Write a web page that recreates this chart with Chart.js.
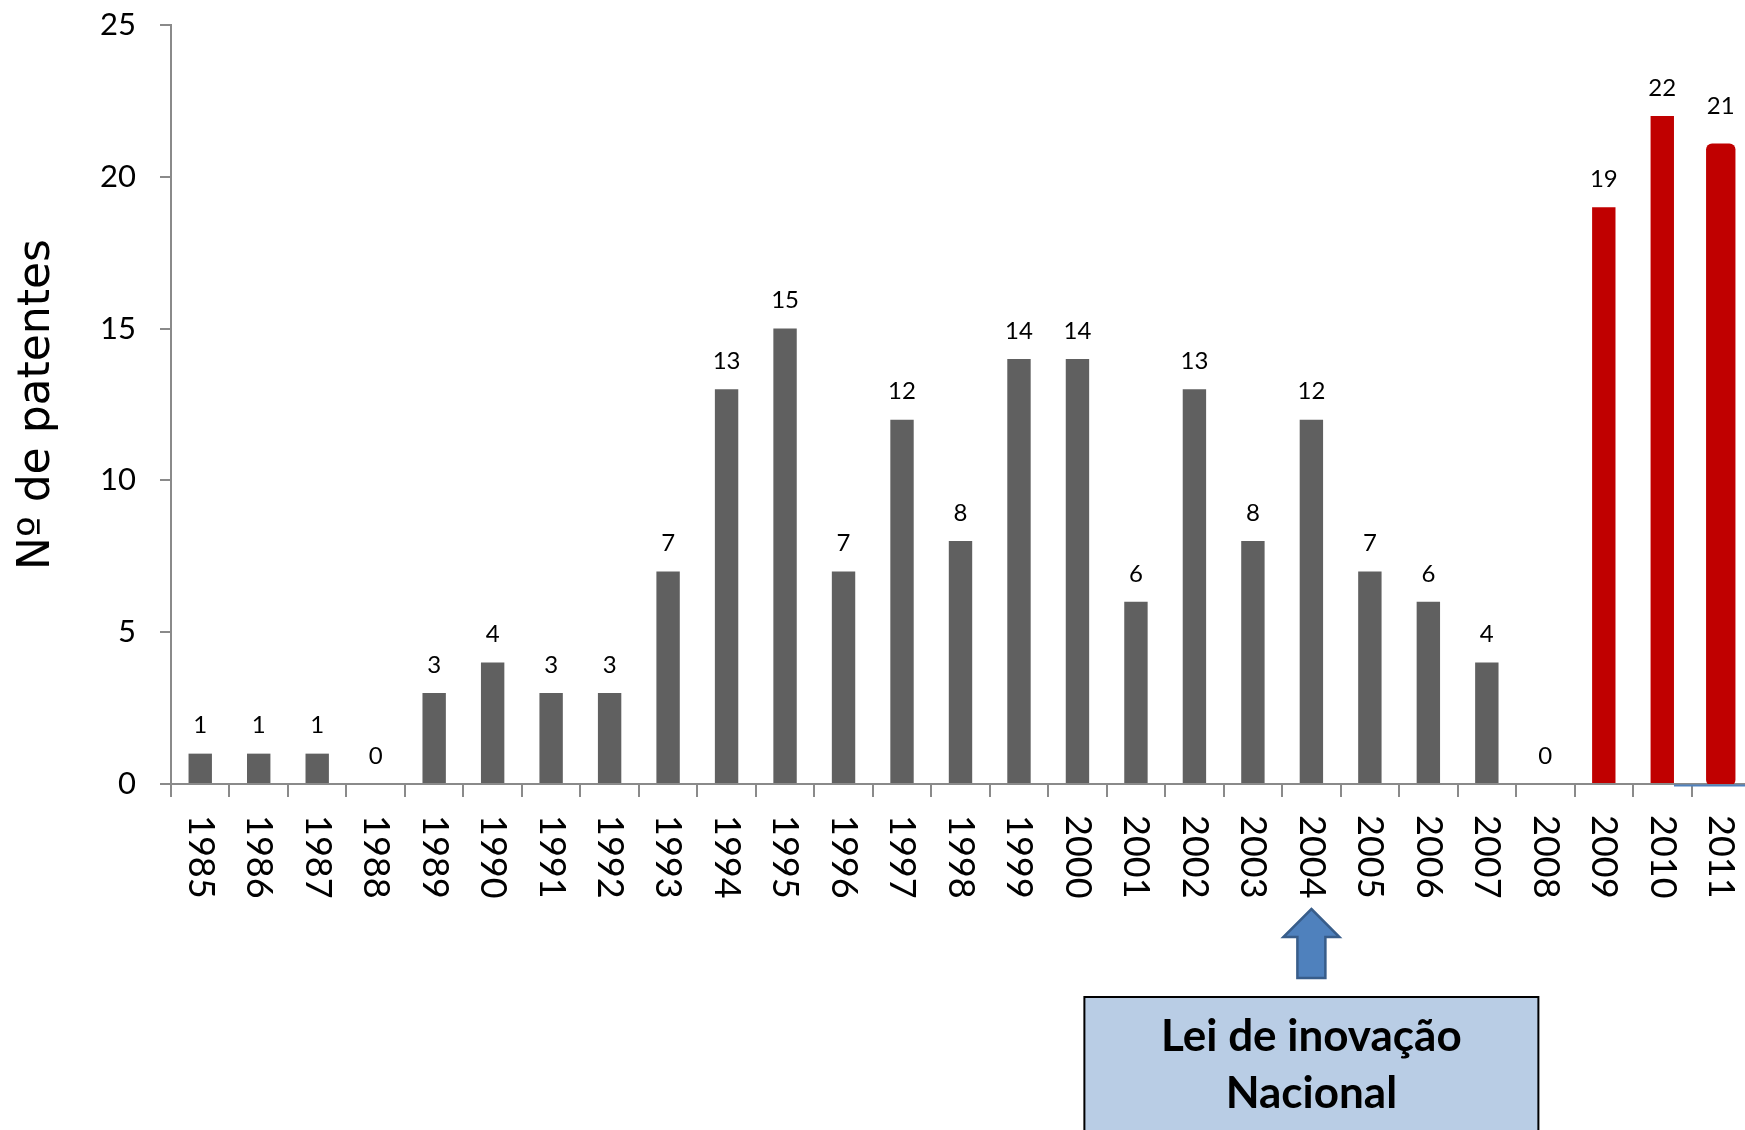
<!DOCTYPE html>
<html><head><meta charset="utf-8">
<script src="https://cdn.jsdelivr.net/npm/chart.js@4.4.1/dist/chart.umd.min.js"></script>
<style>
html,body{margin:0;padding:0;overflow:hidden;background:#fff;}
#wrap{width:1755px;height:1130px;position:relative;}
</style></head><body>
<div id="wrap"><canvas id="c"></canvas></div>
<script>
// ---- data ----
const years = ['1985','1986','1987','1988','1989','1990','1991','1992','1993','1994','1995','1996','1997','1998','1999','2000','2001','2002','2003','2004','2005','2006','2007','2008','2009','2010','2011'];
const patentCounts = [1,1,1,0,3,4,3,3,7,13,15,7,12,8,14,14,6,13,8,12,7,6,4,0,19,22,21];
const yTicks = [0,5,10,15,20,25];
const yAxisTitle = 'Nº de patentes';
const annotationYear = '2004';
const annotationLines = ['Lei de inovação','Nacional'];
const highlightYears = ['2009','2010','2011'];
const selectedYear = '2011';

// ---- styles ----
const FONT = 'Lato, "Open Sans", sans-serif';
const GRAY = '#606060', RED = '#C00000', AXIS = '#8a8a8a';

const overlay = {
  id: 'overlay',
  beforeDatasetsDraw(chart) {
    const ctx = chart.ctx, meta = chart.getDatasetMeta(0), y = chart.scales.y;
    const i = years.indexOf('2010');
    const bar = meta.data[i];
    ctx.save();
    ctx.strokeStyle = '#4F81BD'; ctx.lineWidth = 2;
    ctx.beginPath();
    ctx.moveTo(bar.x + bar.width / 2, y.getPixelForValue(0) + 1.5);
    ctx.lineTo(chart.width, y.getPixelForValue(0) + 1.5);
    ctx.stroke();
    ctx.restore();
  },
  afterDatasetsDraw(chart) {
    const ctx = chart.ctx, meta = chart.getDatasetMeta(0);
    const x = chart.scales.x, y = chart.scales.y;
    const y0 = y.getPixelForValue(0);
    ctx.save();
    // value labels
    ctx.font = '24px ' + FONT; ctx.fillStyle = '#000';
    ctx.textAlign = 'center'; ctx.textBaseline = 'middle';
    meta.data.forEach((bar, i) => {
      const off = years[i] === selectedYear ? 40 : 28;
      ctx.fillText(String(patentCounts[i]), bar.x, y.getPixelForValue(patentCounts[i]) - off);
    });
    // x labels, rotated clockwise
    ctx.font = '36px ' + FONT;
    years.forEach((yr, i) => {
      const px = x.getPixelForTick(i);
      ctx.save();
      ctx.translate(px, y0 + 31);
      ctx.rotate(Math.PI / 2);
      ctx.textAlign = 'left'; ctx.textBaseline = 'middle';
      ctx.fillText(yr, 0, 0);
      ctx.restore();
    });
    // arrow
    const cx = x.getPixelForTick(years.indexOf(annotationYear));
    ctx.beginPath();
    ctx.moveTo(cx, y0 + 125);
    ctx.lineTo(cx + 28, y0 + 153);
    ctx.lineTo(cx + 14, y0 + 153);
    ctx.lineTo(cx + 14, y0 + 194);
    ctx.lineTo(cx - 14, y0 + 194);
    ctx.lineTo(cx - 14, y0 + 153);
    ctx.lineTo(cx - 28, y0 + 153);
    ctx.closePath();
    ctx.fillStyle = '#4F81BD'; ctx.fill();
    ctx.strokeStyle = '#385D8A'; ctx.lineWidth = 2.5; ctx.stroke();
    // box
    ctx.fillStyle = '#B9CDE5';
    ctx.fillRect(cx - 227, y0 + 213, 454, 200);
    ctx.strokeStyle = '#000'; ctx.lineWidth = 2;
    ctx.strokeRect(cx - 227, y0 + 213, 454, 200);
    ctx.fillStyle = '#000';
    ctx.font = 'bold 44px ' + FONT;
    ctx.textAlign = 'center'; ctx.textBaseline = 'middle';
    annotationLines.forEach((t, k) => ctx.fillText(t, cx, y0 + 253 + k * 57));
    ctx.restore();
  }
};

new Chart(document.getElementById('c'), {
  type: 'bar',
  data: {
    labels: years,
    datasets: [{
      data: patentCounts,
      backgroundColor: years.map(yr => highlightYears.includes(yr) ? RED : GRAY),
      borderWidth: 0,
      barPercentage: 0.4,
      categoryPercentage: 1,
      inflateAmount: c => years[c.dataIndex] === selectedYear ? 3 : 'auto',
      borderRadius: c => years[c.dataIndex] === selectedYear ? 6 : 0,
      borderSkipped: c => years[c.dataIndex] === selectedYear ? false : 'start'
    }]
  },
  options: {
    responsive: true,
    maintainAspectRatio: false,
    animation: false,
    layout: { padding: { top: 25, right: 5, left: 0, bottom: 0 } },
    plugins: { legend: { display: false }, tooltip: { enabled: false } },
    scales: {
      x: {
        grid: { drawOnChartArea: false, drawTicks: true, tickLength: 13, color: AXIS, lineWidth: 2, offset: true },
        border: { display: true, color: AXIS, width: 2 },
        ticks: { display: false },
        afterFit: s => { s.height = 346; s.paddingLeft = 0; s.paddingRight = 0; }
      },
      y: {
        min: yTicks[0], max: yTicks[yTicks.length - 1],
        afterBuildTicks: s => { s.ticks = yTicks.map(v => ({ value: v })); },
        grid: { drawOnChartArea: false, drawTicks: true, tickLength: 11, color: AXIS, lineWidth: 2 },
        border: { display: true, color: AXIS, width: 2 },
        ticks: { color: '#000', padding: 24, font: { family: FONT, size: 31 } },
        title: { display: true, text: yAxisTitle, color: '#000', padding: { top: 11, bottom: 4 }, font: { family: '"DejaVu Sans", sans-serif', size: 44 } },
        afterFit: s => { s.width = 171; s.paddingTop = 0; s.paddingBottom = 0; }
      }
    }
  },
  plugins: [overlay]
});
</script>
</body></html>
